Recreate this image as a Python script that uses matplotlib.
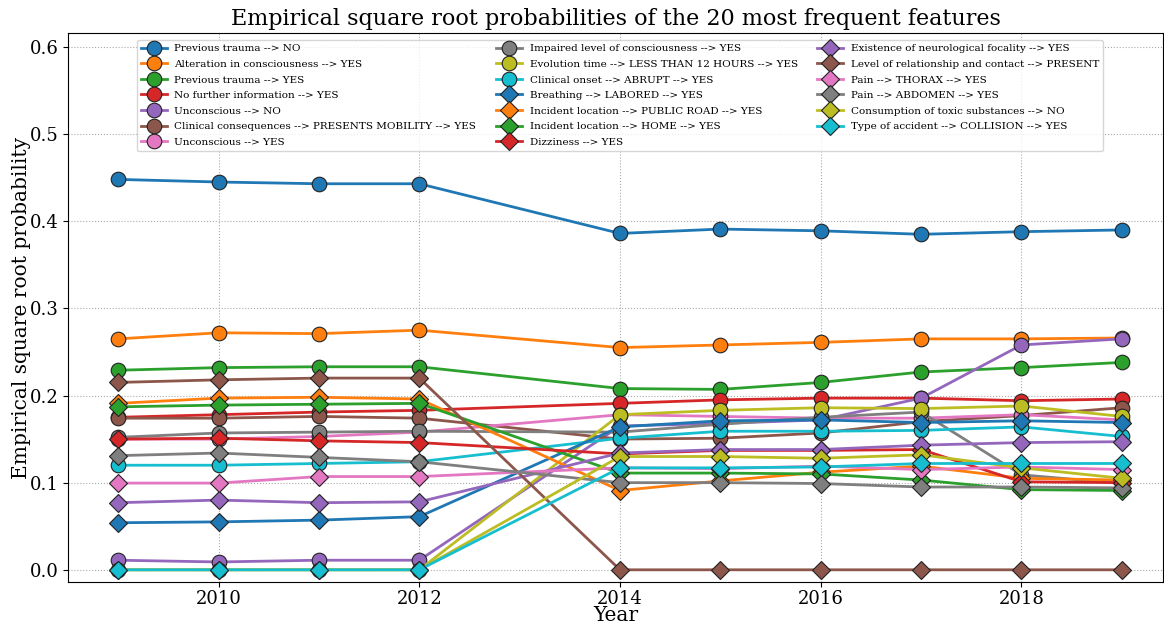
import matplotlib
matplotlib.use("Agg")
from matplotlib import pyplot as plt

plt.rcParams["font.family"] = "DejaVu Serif"

years = [2009, 2010, 2011, 2012, 2014, 2015, 2016, 2017, 2018, 2019]

labels = [
    "Previous trauma --> NO",
    "Alteration in consciousness --> YES",
    "Previous trauma --> YES",
    "No further information --> YES",
    "Unconscious --> NO",
    "Clinical consequences --> PRESENTS MOBILITY --> YES",
    "Unconscious --> YES",
    "Impaired level of consciousness --> YES",
    "Evolution time --> LESS THAN 12 HOURS --> YES",
    "Clinical onset --> ABRUPT --> YES",
    "Breathing --> LABORED --> YES",
    "Incident location --> PUBLIC ROAD --> YES",
    "Incident location --> HOME --> YES",
    "Dizziness --> YES",
    "Existence of neurological focality --> YES",
    "Level of relationship and contact --> PRESENT",
    "Pain --> THORAX --> YES",
    "Pain --> ABDOMEN --> YES",
    "Consumption of toxic substances --> NO",
    "Type of accident --> COLLISION --> YES",
]

values = [
    [0.448, 0.445, 0.443, 0.443, 0.386, 0.391, 0.389, 0.385, 0.388, 0.390],
    [0.265, 0.272, 0.271, 0.275, 0.255, 0.258, 0.261, 0.265, 0.265, 0.266],
    [0.229, 0.232, 0.233, 0.233, 0.208, 0.207, 0.215, 0.227, 0.232, 0.238],
    [0.175, 0.178, 0.181, 0.183, 0.191, 0.195, 0.197, 0.197, 0.194, 0.196],
    [0.011, 0.009, 0.011, 0.011, 0.165, 0.168, 0.172, 0.197, 0.258, 0.265],
    [0.174, 0.174, 0.176, 0.174, 0.150, 0.151, 0.157, 0.170, 0.177, 0.186],
    [0.150, 0.150, 0.153, 0.158, 0.178, 0.176, 0.174, 0.174, 0.178, 0.172],
    [0.152, 0.157, 0.158, 0.159, 0.158, 0.167, 0.175, 0.181, 0.109, 0.099],
    [0.0, 0.0, 0.0, 0.0, 0.178, 0.183, 0.186, 0.185, 0.188, 0.176],
    [0.120, 0.120, 0.122, 0.124, 0.151, 0.159, 0.159, 0.160, 0.164, 0.153],
    [0.054, 0.055, 0.057, 0.061, 0.164, 0.171, 0.172, 0.169, 0.171, 0.169],
    [0.191, 0.197, 0.198, 0.196, 0.091, 0.102, 0.112, 0.119, 0.105, 0.103],
    [0.187, 0.189, 0.190, 0.191, 0.111, 0.111, 0.110, 0.103, 0.092, 0.091],
    [0.150, 0.151, 0.148, 0.146, 0.133, 0.137, 0.137, 0.138, 0.101, 0.100],
    [0.077, 0.080, 0.077, 0.078, 0.134, 0.138, 0.138, 0.143, 0.146, 0.147],
    [0.215, 0.218, 0.220, 0.220, 0.0, 0.0, 0.0, 0.0, 0.0, 0.0],
    [0.0995, 0.0995, 0.107, 0.107, 0.117, 0.116, 0.119, 0.115, 0.118, 0.115],
    [0.131, 0.134, 0.129, 0.124, 0.100, 0.100, 0.099, 0.095, 0.095, 0.094],
    [0.0, 0.0, 0.0, 0.0, 0.130, 0.130, 0.128, 0.132, 0.117, 0.105],
    [0.0, 0.0, 0.0, 0.0, 0.117, 0.117, 0.118, 0.122, 0.122, 0.122],
]

colors = plt.rcParams["axes.prop_cycle"].by_key()["color"]

fig, ax = plt.subplots(figsize=(11.64, 6.25), dpi=100)
fig.subplots_adjust(left=68 / 1164, right=1163 / 1164, top=1 - 33 / 625, bottom=1 - 582 / 625)

for i, (name, vals) in enumerate(zip(labels, values)):
    # first ten series as circles, the rest as diamonds
    marker = "o" if i < 10 else "D"
    ms = 10.5 if i < 10 else 9.5
    ax.plot(years, vals, marker=marker, color=colors[i % 10], label=name,
            markersize=ms, markeredgecolor="#222222", markeredgewidth=0.8, linewidth=2)

ax.set_title("Empirical square root probabilities of the 20 most frequent features", fontsize=16, pad=6)
ax.set_xlabel("Year", fontsize=14.5, labelpad=-1)
ax.set_ylabel("Empirical square root probability", fontsize=14.5, labelpad=-1)
ax.set_xlim(2008.5, 2019.41)
ax.set_ylim(-0.014, 0.616)
ax.set_xticks([2010, 2012, 2014, 2016, 2018])
ax.set_yticks([0.0, 0.1, 0.2, 0.3, 0.4, 0.5, 0.6])
ax.tick_params(labelsize=13)
ax.tick_params(axis="x", pad=2)
ax.grid(True, linestyle=":", color="#aaaaaa", linewidth=0.8)
ax.legend(loc="upper left", bbox_to_anchor=(69 / 1095, 1 - 7 / 549), borderaxespad=0,
          ncol=3, fontsize=7.5, handlelength=2.5, handletextpad=0.7,
          labelspacing=0.6, columnspacing=1.9)

plt.savefig("out.png")
plt.close(fig)
